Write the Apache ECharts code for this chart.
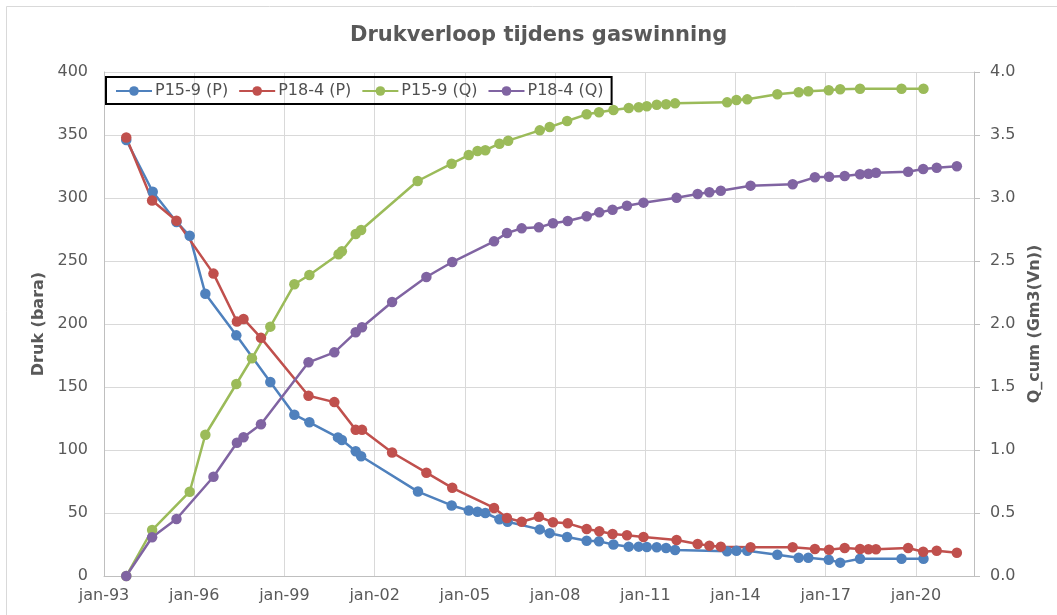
<!DOCTYPE html>
<html>
<head>
<meta charset="utf-8">
<script src="https://cdn.jsdelivr.net/npm/echarts@6/dist/echarts.min.js"></script>
<style>
  html, body { margin: 0; padding: 0; background: #ffffff; }
  #chart { width: 1057px; height: 615px; }
</style>
</head>
<body>
<div id="chart"></div>
<script>
// ---- data (dates as decimal years) ----
const axisStartYear = 1993;
const xTickYears = ['jan-93','jan-96','jan-99','jan-02','jan-05','jan-08','jan-11','jan-14','jan-17','jan-20'];

const timesP15P = [1993.74, 1994.62, 1995.41, 1995.85, 1996.37, 1997.40, 1998.53, 1999.33, 1999.83, 2000.78, 2000.91, 2001.37, 2001.55,
  2003.44, 2004.56, 2005.13, 2005.42, 2005.68, 2006.15, 2006.42, 2007.49, 2007.82, 2008.40, 2009.05, 2009.46, 2009.94, 2010.45, 2010.78,
  2011.05, 2011.38, 2011.69, 2011.99, 2013.72, 2014.03, 2014.39, 2015.39, 2016.10, 2016.42, 2017.10, 2017.48, 2018.14, 2019.52, 2020.25];
const pressureP15 = [346, 305, 281, 270, 224, 191, 154, 128, 122, 110, 108, 99, 95,
  67, 56, 52, 51, 50, 45, 43, 37, 34, 31, 28, 27.5, 25, 23.3, 23.3,
  23, 22.8, 22.2, 20.6, 19.6, 20.1, 20.1, 16.9, 14.5, 14.5, 12.9, 10.6, 13.7, 13.7, 13.7];

const timesP15Q = [1993.74, 1994.60, 1995.85, 1996.37, 1997.40, 1997.92, 1998.53, 1999.33, 1999.83, 2000.80, 2000.91, 2001.37, 2001.55,
  2003.43, 2004.56, 2005.13, 2005.42, 2005.68, 2006.15, 2006.44, 2007.49, 2007.82, 2008.40, 2009.05, 2009.46, 2009.94, 2010.45, 2010.78,
  2011.05, 2011.38, 2011.69, 2011.99, 2013.72, 2014.03, 2014.39, 2015.39, 2016.10, 2016.42, 2017.10, 2017.48, 2018.14, 2019.52, 2020.25];
const qcumP15 = [0, 0.365, 0.669, 1.121, 1.524, 1.728, 1.979, 2.315, 2.389, 2.553, 2.577, 2.714, 2.746,
  3.135, 3.272, 3.341, 3.373, 3.379, 3.431, 3.455, 3.537, 3.563, 3.611, 3.664, 3.680, 3.698, 3.714, 3.720,
  3.728, 3.740, 3.744, 3.751, 3.759, 3.778, 3.783, 3.823, 3.839, 3.847, 3.855, 3.863, 3.867, 3.867, 3.867];

const timesP18 = [1993.74, 1994.60, 1995.41, 1996.64, 1997.42, 1997.64, 1998.22, 1999.80, 2000.66, 2001.37, 2001.58,
  2002.58, 2003.72, 2004.58, 2005.97, 2006.40, 2006.89, 2007.46, 2007.93, 2008.42, 2009.05,
  2009.47, 2009.91, 2010.39, 2010.94, 2012.04, 2012.74, 2013.13, 2013.51, 2014.50, 2015.90,
  2016.64, 2017.11, 2017.63, 2018.14, 2018.42, 2018.67, 2019.74, 2020.24, 2020.69, 2021.36];
const pressureP18 = [348, 298, 282, 240, 202, 204, 189, 143, 138, 116, 116,
  98, 82, 70, 54, 46, 43, 47, 42.6, 41.8, 37.3,
  35.5, 33.3, 32.3, 31, 28.6, 25.4, 24.1, 23.3, 22.8, 22.8,
  21.4, 20.9, 22.2, 21.4, 21.2, 21.2, 22.2, 19.3, 20.1, 18.5];
const qcumP18 = [0, 0.307, 0.452, 0.788, 1.058, 1.101, 1.204, 1.696, 1.775, 1.934, 1.974,
  2.175, 2.373, 2.492, 2.656, 2.722, 2.759, 2.767, 2.799, 2.817, 2.855,
  2.886, 2.907, 2.939, 2.963, 3.002, 3.032, 3.045, 3.058, 3.098, 3.109,
  3.164, 3.169, 3.175, 3.188, 3.193, 3.201, 3.209, 3.230, 3.240, 3.252];

const seriesNames = ['P15-9 (P)', 'P18-4 (P)', 'P15-9 (Q)', 'P18-4 (Q)'];
const seriesColors = ['#4F81BD', '#C0504D', '#9BBB59', '#8064A2'];

// ---- build ----
function pairs(times, vals) {
  return times.map((t, i) => [t - axisStartYear, vals[i]]);
}
const FONT = 'DejaVu Sans';
const TXT = '#595959';

function lineSeries(idx, data, yAxisIndex) {
  return {
    name: seriesNames[idx],
    type: 'line',
    yAxisIndex: yAxisIndex,
    data: data,
    symbol: 'circle',
    symbolSize: 10.5,
    showAllSymbol: true,
    color: seriesColors[idx],
    lineStyle: { width: 2.5, color: seriesColors[idx] },
    itemStyle: { color: seriesColors[idx] },
    emphasis: { disabled: true },
    animation: false
  };
}

const chart = echarts.init(document.getElementById('chart'), null, { renderer: 'canvas' });
chart.setOption({
  backgroundColor: '#ffffff',
  animation: false,
  textStyle: { fontFamily: FONT },
  title: {
    text: 'Drukverloop tijdens gaswinning',
    left: 345,
    top: 20,
    textStyle: { fontFamily: FONT, fontSize: 21, fontWeight: 'bold', color: TXT }
  },
  graphic: [{
    type: 'rect',
    shape: { x: 6.5, y: 6.5, width: 1100, height: 700 },
    style: { fill: 'none', stroke: '#d9d9d9', lineWidth: 1 },
    silent: true
  }],
  legend: {
    data: seriesNames,
    left: 106,
    top: 77,
    padding: [6, 8, 5, 9],
    itemGap: 10,
    itemWidth: 36,
    itemHeight: 12,
    borderColor: '#000000',
    borderWidth: 2,
    textStyle: { fontFamily: FONT, fontSize: 16, color: '#505050', padding: [0, 0, 0, -2] }
  },
  grid: { left: 104, right: 83, top: 72, bottom: 39, outerBoundsMode: 'none' },
  xAxis: {
    type: 'value',
    min: 0,
    max: 28.93,
    interval: 3,
    axisLine: { show: true, lineStyle: { color: '#bfbfbf', width: 1 } },
    axisTick: { show: false },
    splitLine: { show: true, lineStyle: { color: '#d9d9d9', width: 1 } },
    axisLabel: {
      showMaxLabel: false,
      margin: 12,
      fontFamily: FONT, fontSize: 16, color: TXT,
      formatter: function (v) { return xTickYears[Math.round(v / 3)] || ''; }
    }
  },
  yAxis: [{
    type: 'value',
    min: 0, max: 400, interval: 50,
    name: 'Druk (bara)',
    nameLocation: 'middle',
    nameGap: 48,
    nameTextStyle: { fontFamily: FONT, fontSize: 16, fontWeight: 'bold', color: TXT },
    axisLine: { show: true, lineStyle: { color: '#bfbfbf' } },
    axisTick: { show: false },
    splitLine: { show: true, lineStyle: { color: '#d9d9d9', width: 1 } },
    axisLabel: { margin: 16, fontFamily: FONT, fontSize: 16, color: TXT }
  }, {
    type: 'value',
    min: 0, max: 4, interval: 0.5,
    position: 'right',
    name: 'Q_cum (Gm3(Vn))',
    nameLocation: 'middle',
    nameGap: 44,
    nameRotate: 90,
    nameTextStyle: { fontFamily: FONT, fontSize: 16, fontWeight: 'bold', color: TXT },
    axisLine: { show: true, lineStyle: { color: '#bfbfbf' } },
    axisTick: { show: true, length: 6, inside: false, lineStyle: { color: '#bfbfbf' } },
    splitLine: { show: false },
    axisLabel: { margin: 16, fontFamily: FONT, fontSize: 16, color: TXT,
      formatter: function (v) { return v.toFixed(1); } }
  }],
  series: [
    lineSeries(0, pairs(timesP15P, pressureP15), 0),
    lineSeries(1, pairs(timesP18, pressureP18), 0),
    lineSeries(2, pairs(timesP15Q, qcumP15), 1),
    lineSeries(3, pairs(timesP18, qcumP18), 1)
  ]
});
</script>
</body>
</html>
